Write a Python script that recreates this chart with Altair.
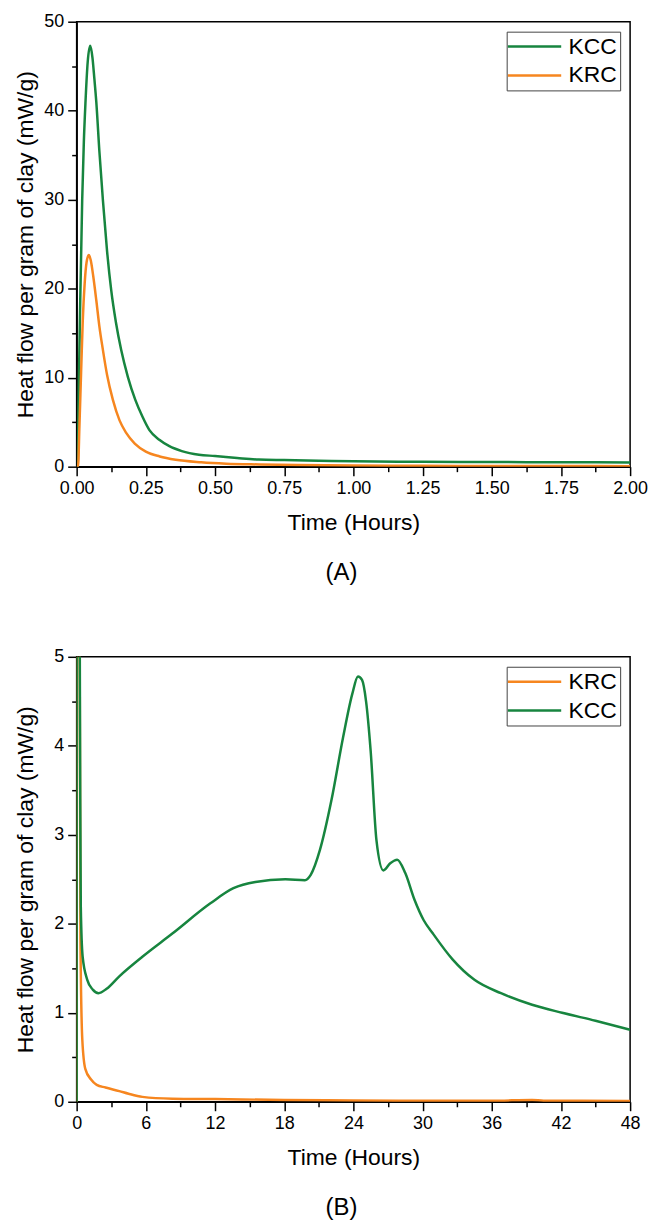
import altair as alt
import pandas as pd

FONT = "Liberation Sans"
GREEN = "#17853f"
ORANGE = "#f6861f"

# ---------------- Panel A (0-2 h) ----------------
a_kcc_t = [0.0, 0.004, 0.007, 0.013, 0.020, 0.026, 0.032, 0.040, 0.049, 0.057, 0.064, 0.071,
           0.082, 0.095, 0.110, 0.125, 0.142, 0.161, 0.185, 0.212, 0.238, 0.263, 0.300, 0.335,
           0.380, 0.442, 0.500, 0.580, 0.658, 0.750, 0.875, 1.000, 1.250, 1.500, 1.750, 2.000]
a_kcc_v = [0.0, 0.0, 7.5, 18.7, 29.9, 36.5, 41.0, 45.5, 47.3, 46.0, 43.6, 41.0,
           35.5, 29.9, 24.2, 19.8, 16.2, 13.1, 10.1, 7.5, 5.6, 4.1, 3.0, 2.3,
           1.75, 1.34, 1.20, 0.98, 0.80, 0.74, 0.67, 0.61, 0.55, 0.52, 0.50, 0.48]

a_krc_t = [0.0, 0.005, 0.010, 0.016, 0.022, 0.029, 0.036, 0.044, 0.051, 0.060, 0.071, 0.082,
           0.095, 0.110, 0.131, 0.155, 0.179, 0.210, 0.250, 0.300, 0.358, 0.450, 0.540, 0.660,
           0.800, 1.000, 1.250, 1.500, 1.750, 2.000]
a_krc_v = [0.0, 0.0, 4.5, 10.5, 16.3, 20.6, 23.0, 23.8, 23.2, 21.4, 18.7, 15.8,
           13.1, 10.3, 7.5, 5.2, 3.8, 2.6, 1.7, 1.15, 0.78, 0.50, 0.34, 0.25,
           0.18, 0.13, 0.10, 0.08, 0.07, 0.06]

# ---------------- Panel B (0-48 h) ----------------
b_kcc_t = [0.0, 0.05, 0.15, 0.25, 0.33, 0.36, 0.52, 0.92, 1.4, 1.9, 2.6, 3.7, 5.7, 8.3,
           11.6, 13.6, 15.5, 18.1, 19.8, 20.3, 21.1, 22.1, 23.1, 23.9, 24.4, 24.75, 25.1, 25.5,
           26.0, 26.6, 27.2, 27.8, 28.5, 29.3, 30.1, 30.9, 32.6, 34.5, 36.8, 39.5, 42.1,
           45.0, 48.0]
b_kcc_v = [0.0, 47.3, 20.0, 6.0, 2.94, 2.19, 1.63, 1.37, 1.26, 1.22, 1.27, 1.41, 1.63, 1.89,
           2.23, 2.40, 2.47, 2.50, 2.49, 2.55, 2.83, 3.39, 4.09, 4.58, 4.78, 4.74, 4.50, 3.94,
           2.94, 2.60, 2.68, 2.72, 2.57, 2.27, 2.04, 1.89, 1.60, 1.37, 1.22, 1.09, 1.00,
           0.91, 0.81]

b_krc_t = [0.0, 0.04, 0.10, 0.20, 0.33, 0.49, 0.75, 1.25, 1.74, 2.5, 3.7, 4.5, 5.7, 8.3,
           12.0, 18.0, 24.0, 30.0, 36.0, 39.5, 40.5, 48.0]
b_krc_v = [0.0, 23.8, 18.0, 8.0, 1.82, 0.70, 0.37, 0.25, 0.19, 0.16, 0.12, 0.09, 0.055, 0.035,
           0.03, 0.02, 0.015, 0.012, 0.012, 0.02, 0.012, 0.01]

# axis tick positions (majors labelled, minors unlabelled)
a_x_ticks = [0.0, 0.125, 0.25, 0.375, 0.5, 0.625, 0.75, 0.875, 1.0, 1.125, 1.25, 1.375,
             1.5, 1.625, 1.75, 1.875, 2.0]
a_y_ticks = [0, 5, 10, 15, 20, 25, 30, 35, 40, 45, 50]
b_x_ticks = [0, 3, 6, 9, 12, 15, 18, 21, 24, 27, 30, 33, 36, 39, 42, 45, 48]
b_y_ticks = [0, 0.5, 1, 1.5, 2, 2.5, 3, 3.5, 4, 4.5, 5]


def frame(ts, vs, name):
    return pd.DataFrame({"t": ts, "v": vs, "series": name})


df_a = pd.concat([frame(a_kcc_t, a_kcc_v, "KCC"), frame(a_krc_t, a_krc_v, "KRC")])
df_b = pd.concat([frame(b_krc_t, b_krc_v, "KRC"), frame(b_kcc_t, b_kcc_v, "KCC")])

YTITLE = "Heat flow per gram of clay (mW/g)"


def axis(values, fmt, title, major, is_y):
    kw = dict(
        values=values,
        format=fmt,
        title=title,
        labelExpr=f"({major}) ? datum.label : ''",
        tickSize={"condition": {"test": major, "value": 9}, "value": 5},
        labelFlush=False,
        labelPadding=4,
        labelOverlap=False,
        grid=False,
        domainColor="black", domainWidth=1.5, tickColor="black", tickWidth=1.5,
        labelColor="black", titleColor="black", labelFont=FONT, titleFont=FONT,
        labelFontSize=18, titleFontSize=23, titleFontWeight="normal",
    )
    if is_y:
        kw.update(titleX=-51, titleBaseline="middle", titleAngle=270)
    else:
        kw.update(titlePadding=14)
    return alt.Axis(**kw)


def panel(df, order, colors, xdom, xvals, xfmt, xmajor, ydom, yvals, yfmt, ymajor, caption):
    return alt.Chart(df).mark_line(clip=True, strokeWidth=2.5, interpolate="monotone").encode(
        x=alt.X("t:Q", scale=alt.Scale(domain=xdom, nice=False, zero=False),
                axis=axis(xvals, xfmt, "Time (Hours)", xmajor, False)),
        y=alt.Y("v:Q", scale=alt.Scale(domain=ydom, nice=False, zero=False),
                axis=axis(yvals, yfmt, YTITLE, ymajor, True)),
        color=alt.Color("series:N", sort=order,
                        scale=alt.Scale(domain=order, range=colors),
                        legend=alt.Legend(
                            title=None, orient="top-right", offset=10,
                            strokeColor="#444", padding=3,
                            symbolType="M-2.55,0L2.55,0", symbolSize=441,
                            symbolStrokeWidth=2.5, symbolOffset=13,
                            labelOffset=22, labelFontSize=23, labelFont=FONT,
                            labelColor="black", rowPadding=5,
                        )),
        detail="series:N",
    ).properties(
        width=556, height=447,
        title=alt.TitleParams(caption, orient="bottom", anchor="middle", frame="group",
                              fontSize=24, font=FONT, fontWeight="normal", color="black",
                              offset=27, dx=-12),
    )


top = panel(df_a, ["KCC", "KRC"], [GREEN, ORANGE], [0, 2], a_x_ticks, ".2f",
            "round(datum.value*8) % 2 == 0", [0, 50], a_y_ticks, "d",
            "datum.value % 10 == 0", "(A)")
bottom = panel(df_b, ["KRC", "KCC"], [ORANGE, GREEN], [0, 48], b_x_ticks, "d",
               "datum.value % 6 == 0", [0, 5], b_y_ticks, ".1~f",
               "round(datum.value*2) % 2 == 0", "(B)")

chart = alt.vconcat(top, bottom, spacing=61).resolve_scale(
    color="independent", x="independent", y="independent"
).resolve_legend(color="independent").properties(
    padding={"left": 14, "top": 9, "right": 5, "bottom": 5},
    background="white",
).configure_view(
    stroke="black", strokeWidth=1.5
)

chart.save("out.html", embed_options={"renderer": "svg", "actions": False})
